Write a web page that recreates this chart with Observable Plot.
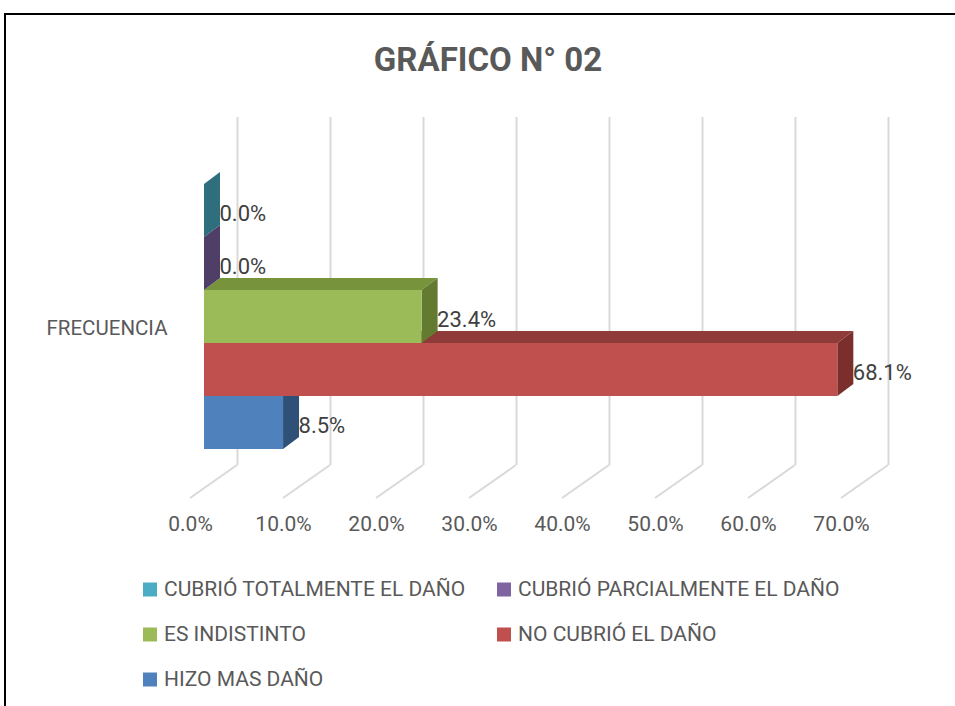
<!DOCTYPE html>
<html>
<head>
<meta charset="utf-8">
<script src="https://cdn.jsdelivr.net/npm/d3@7"></script>
<script src="https://cdn.jsdelivr.net/npm/@observablehq/plot@0.6"></script>
<style>
  html, body { margin: 0; padding: 0; background: #fff; }
  body { width: 955px; height: 706px; position: relative; overflow: hidden;
         font-family: "Liberation Sans Narrow", "Roboto", "Lato", sans-serif; }
  #frame { position: absolute; left: 4px; top: 13px; width: 1000px; height: 800px;
           border-left: 2px solid #000; border-top: 2px solid #000; box-sizing: border-box; }
  #title { position: absolute; left: 0; width: 976px; top: 59px; transform: translateY(-50%);
           text-align: center; font-weight: bold; font-size: 33px; color: #595959; line-height: 1; }
  #chart { position: absolute; left: 0; top: 100px; }
  .leg { position: absolute; display: flex; align-items: center; transform: translateY(-50%);
         font-size: 21px; color: #595959; line-height: 1; white-space: nowrap; }
  .leg .sw { width: 14px; height: 14px; margin-right: 7px; flex: none; }
</style>
</head>
<body>
<div id="frame"></div>
<div id="title">GRÁFICO N° 02</div>
<div id="chart"></div>
<div id="legend"></div>
<script>
// ---- data ----
const categories = ["FRECUENCIA"];
const series = [
  "CUBRIÓ TOTALMENTE EL DAÑO",
  "CUBRIÓ PARCIALMENTE EL DAÑO",
  "ES INDISTINTO",
  "NO CUBRIÓ EL DAÑO",
  "HIZO MAS DAÑO"
];
const values = [0.0, 0.0, 23.4, 68.1, 8.5];
const xTicks = [0, 10, 20, 30, 40, 50, 60, 70];

// ---- styles ----
const frontColors = ["#4BACC6", "#8064A2", "#9BBB59", "#C0504D", "#4F81BD"];
const topColors   = ["#3A8798", "#62497F", "#77933C", "#8E3B39", "#3B6391"];
const sideColors  = ["#2F6F7D", "#4F3E66", "#637B31", "#7A2F2D", "#2F5077"];

const data = series.map((s, i) => ({series: s, value: values[i], i}));
const fmt = v => v.toFixed(1) + "%";

// 3D geometry (pixels)
const FRONT_DX = -33;   // bar front plane offset from back wall
const DEPTH_X = 16, DEPTH_Y = -12; // bar depth
const FLOOR_DX = -47, FLOOR_DY = 33; // floor front edge offset from back wall
const GRID_TOP = 17, GRID_BOTTOM = 365;

// gridline floor diagonals
function floorLines(index, scales, values, dims) {
  const g = d3.create("svg:g").attr("stroke", "#D9D9D9").attr("stroke-width", 2).attr("fill", "none");
  for (const t of xTicks) {
    const x = scales.x(t);
    g.append("line").attr("x1", x).attr("y1", GRID_BOTTOM)
      .attr("x2", x + FLOOR_DX).attr("y2", GRID_BOTTOM + FLOOR_DY);
  }
  return g.node();
}

// top and side faces of the 3D bars, drawn bottom bar first
function barDepth(index, scales, values, dims) {
  const bw = scales.y.bandwidth ? scales.y.bandwidth()
    : (dims.height - dims.marginTop - dims.marginBottom) / series.length;
  const g = d3.create("svg:g").attr("stroke", "none");
  for (let k = data.length - 1; k >= 0; k--) {
    const d = data[k];
    const x0 = scales.x(0) + FRONT_DX;
    const x1 = scales.x(d.value) + FRONT_DX;
    const yt = scales.y(d.series);
    const yb = yt + bw;
    // top face
    g.append("path")
      .attr("fill", topColors[d.i])
      .attr("d", `M${x0},${yt}L${x0 + DEPTH_X},${yt + DEPTH_Y}L${x1 + DEPTH_X},${yt + DEPTH_Y}L${x1},${yt}Z`);
    // side face
    g.append("path")
      .attr("fill", sideColors[d.i])
      .attr("d", `M${x1},${yt}L${x1 + DEPTH_X},${yt + DEPTH_Y}L${x1 + DEPTH_X},${yb + DEPTH_Y}L${x1},${yb}Z`);
  }
  return g.node();
}

const plot = Plot.plot({
  width: 955,
  height: 460,
  marginLeft: 237,
  marginRight: 67,
  marginTop: 83,
  marginBottom: 110,
  style: {fontFamily: '"Liberation Sans Narrow", "Roboto", "Lato", sans-serif', background: "transparent", overflow: "visible"},
  x: {domain: [0, 70], axis: null},
  y: {domain: series, padding: 0, axis: null},
  color: {domain: series, range: frontColors},
  marks: [
    Plot.ruleX(xTicks, {x: d => d, stroke: "#D9D9D9", strokeWidth: 2,
      insetTop: GRID_TOP - 83, insetBottom: -(GRID_BOTTOM - 350)}),
    floorLines,
    barDepth,
    Plot.barX(data, {x: "value", y: "series", fill: "series", dx: FRONT_DX}),
    Plot.text(data, {x: "value", y: "series", text: d => fmt(d.value), textAnchor: "start",
      dx: FRONT_DX + DEPTH_X - 1, dy: 3, fill: "#404040", fontSize: 22}),
    Plot.text(xTicks, {x: d => d, frameAnchor: "bottom", text: d => fmt(d),
      dx: FLOOR_DX, dy: 80, fill: "#595959", fontSize: 21}),
    Plot.text(categories, {frameAnchor: "left", text: d => d, textAnchor: "end",
      dx: -70, dy: 11.5, fill: "#595959", fontSize: 20.5})
  ]
});
document.getElementById("chart").appendChild(plot);

// legend
const legPos = [[143, 589], [497, 589], [143, 634], [497, 634], [143, 679]];
const legend = document.getElementById("legend");
series.forEach((s, i) => {
  const item = document.createElement("div");
  item.className = "leg";
  item.style.left = legPos[i][0] + "px";
  item.style.top = legPos[i][1] + "px";
  const sw = document.createElement("span");
  sw.className = "sw";
  sw.style.background = frontColors[i];
  const tx = document.createElement("span");
  tx.textContent = s;
  item.appendChild(sw);
  item.appendChild(tx);
  legend.appendChild(item);
});
</script>
</body>
</html>
